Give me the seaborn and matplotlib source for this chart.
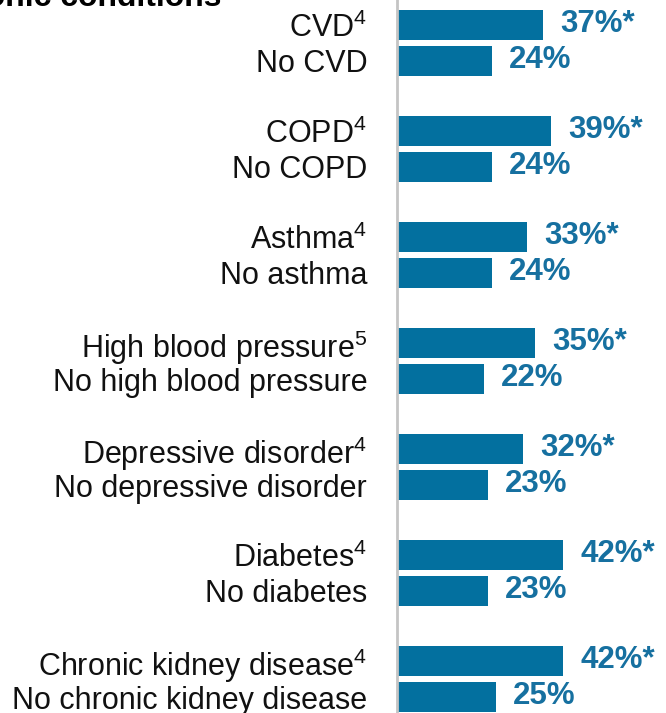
import matplotlib
matplotlib.use("Agg")
import matplotlib.pyplot as plt
import seaborn as sns
import pandas as pd

# Chronic condition groups (with footnote) and their matching "without" groups
conditions = ["CVD", "COPD", "Asthma", "High blood pressure",
              "Depressive disorder", "Diabetes", "Chronic kidney disease"]
footnotes = ["4", "4", "4", "5", "4", "4", "4"]
without_labels = ["No CVD", "No COPD", "No asthma", "No high blood pressure",
                  "No depressive disorder", "No diabetes", "No chronic kidney disease"]
with_values = [37, 39, 33, 35, 32, 42, 42]
without_values = [24, 24, 24, 22, 23, 23, 25]
significant = [True, True, True, True, True, True, True]

sns.set_theme(style="white")
plt.rcParams["font.family"] = ["Liberation Sans", "DejaVu Sans"]
plt.rcParams["mathtext.default"] = "regular"

W, H, DPI = 666, 713, 100
fig = plt.figure(figsize=(W / DPI, H / DPI), dpi=DPI)

# axes spans from the baseline at x=397px to the right edge; y in pixel units
ax_left = 397 / W
ax = fig.add_axes([ax_left, 0, 1 - ax_left, 1])

pair_gap, group_gap, first = 36, 106, 25
rows = []
for g, (c, fn, nl, wv, nv, sig) in enumerate(zip(conditions, footnotes, without_labels,
                                                  with_values, without_values, significant)):
    base = first + g * group_gap
    rows.append({"label": f"{c}$^{{{fn}}}$", "pos": base, "value": wv,
                 "text": f"{wv}%" + ("*" if sig else "")})
    rows.append({"label": nl, "pos": base + pair_gap, "value": nv, "text": f"{nv}%"})
df = pd.DataFrame(rows)

bar_color = "#03709f"
sns.barplot(data=df, x="value", y="pos", orient="h", native_scale=True,
            color=bar_color, saturation=1, width=30 / pair_gap, ax=ax,
            edgecolor="none")

px_per_unit = 3.95
ax.set_xlim(0, (W - 397) / px_per_unit)
ax.set_ylim(H, 0)

for _, r in df.iterrows():
    ax.annotate(r["text"], xy=(r["value"], r["pos"]), xytext=(12.5, 1),
                textcoords="offset points", ha="left", va="center",
                fontsize=22.5, fontweight="bold", color="#1670a0")

ax.set_yticks(df["pos"])
ax.set_yticklabels(df["label"], fontsize=22, color="#111111")
ax.tick_params(axis="y", length=0, pad=21.5)
ax.set_xticks([])
ax.set_xlabel("")
ax.set_ylabel("")
for s in ["top", "right", "bottom"]:
    ax.spines[s].set_visible(False)
ax.spines["left"].set_color("#c4c4c4")
ax.spines["left"].set_linewidth(2)

fig.text(221 / W, 1 - 6 / H, "chronic conditions", ha="right", va="baseline",
         fontsize=23, fontweight="bold", color="black")

fig.savefig("out.png", dpi=DPI)
